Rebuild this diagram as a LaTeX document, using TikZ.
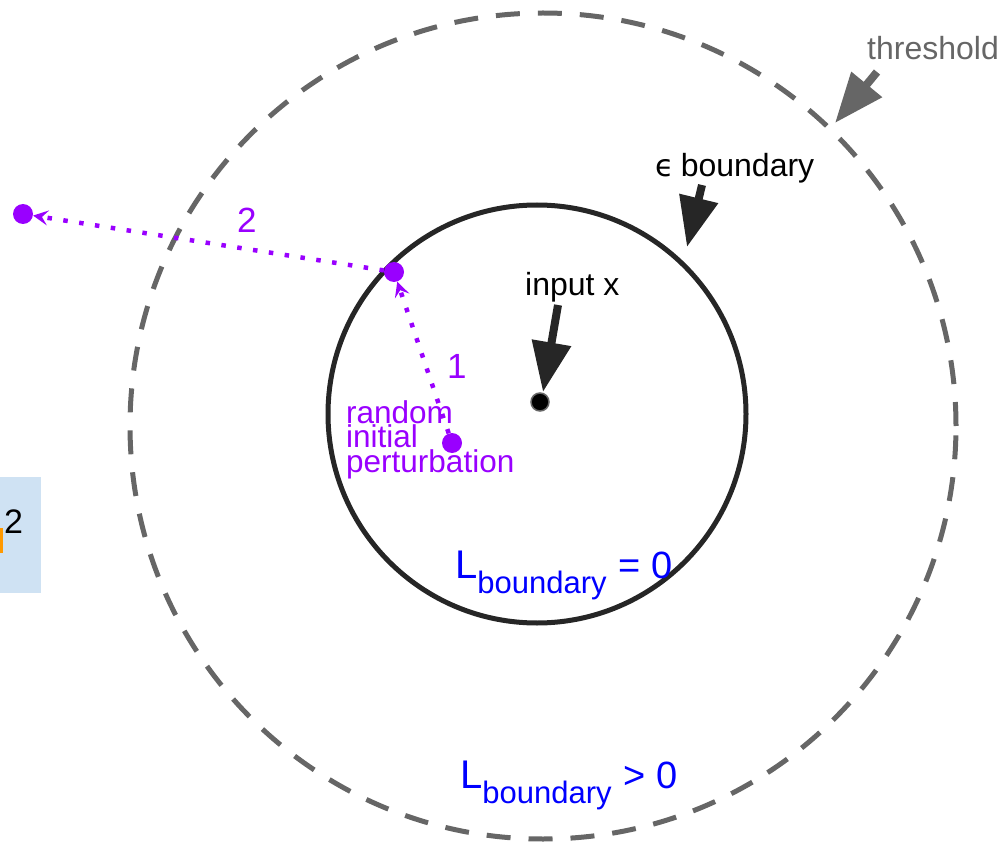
\documentclass[tikz,border=0pt]{standalone}
\usepackage{fontspec}
\setmainfont{Liberation Sans}
\newfontfamily\dejavu[Scale=0.95]{DejaVu Sans}
\usetikzlibrary{arrows.meta}
\definecolor{purp}{HTML}{9900FF}
\definecolor{thr}{HTML}{666666}
\definecolor{ink}{HTML}{262626}
\definecolor{boxblue}{HTML}{CFE2F3}
\definecolor{orng}{HTML}{FF9900}
\tikzset{
  lbl/.style={inner sep=0pt, anchor=base west, font=\fontsize{32}{32}\selectfont},
  bigarrow/.style={line width=8pt, -{Triangle[length=50pt,width=38pt]}},
  pdot/.style={circle, fill=purp, inner sep=0pt, minimum size=20pt},
  parrow/.style={purp, line width=4.5pt, dash pattern=on 4.5pt off 11.5pt, -{Stealth[length=15pt,width=15pt,inset=6pt]}},
  plabel/.style={inner sep=0pt, anchor=base west, text=purp, font=\fontsize{35}{35}\selectfont},
  loss/.style={inner sep=0pt, anchor=base west, text=blue}
}
\newcommand{\bigL}[1]{{\fontsize{40}{40}\selectfont L}\raisebox{-15pt}{\fontsize{31}{31}\selectfont boundary}{\fontsize{38}{38}\selectfont\hspace{12pt}#1}}
\begin{document}
\begin{tikzpicture}[x=1pt,y=-1pt]
\useasboundingbox (0,0) rectangle (1004,842);
% left box
\fill[boxblue] (0,477) rectangle (41,593);
\fill[orng] (0,528) rectangle (3,553);
\node[lbl, font=\fontsize{34}{34}\selectfont] (boxtxt) at (4,533) {2};
% circles
\node[circle, draw=thr, line width=5pt, dash pattern=on 24pt off 18pt, minimum size=826pt, inner sep=0pt] (outer) at (543,426) {};
\node[circle, draw=ink, line width=5pt, minimum size=418pt, inner sep=0pt] (inner) at (537,414) {};
% input
\node[circle, fill=black, draw=black!60, line width=1.5pt, minimum size=18pt, inner sep=0pt] (x) at (540,402) {};
\node[lbl] (inputlbl) at (525,296) {input x};
\coordinate (inTail) at (558,305);
\coordinate (inTip) at (543,392);
\draw[bigarrow, ink] (inTail) -- (inTip);
% epsilon boundary
\node[lbl] (epslbl) at (655,177) {{\dejavu ϵ}\hspace{-2pt} boundary};
\coordinate (epsTail) at (702,185);
\coordinate (epsTip) at (687,247);
\draw[bigarrow, ink] (epsTail) -- (epsTip);
% threshold
\node[lbl, text=thr] (thrlbl) at (867,60) {threshold};
\coordinate (thrTail) at (877,72);
\coordinate (thrTip) at (835,123);
\draw[bigarrow, thr] (thrTail) -- (thrTip);
% perturbation points
\node[pdot] (p0) at (452,443) {};
\node[pdot] (p1) at (394,272) {};
\node[pdot] (p2) at (23,214) {};
\draw[parrow] (p0) -- (p1);
\draw[parrow] (p1) -- (p2);
\node[plabel] (one) at (447,378) {1};
\node[plabel] (two) at (237,233) {2};
\node[inner sep=0pt, anchor=north west, text=purp, align=left, font=\fontsize{31.5}{24.5}\selectfont] (rip) at (346,400) {random\\initial\\perturbation};
% losses
\node[loss] (l0) at (455,578) {\bigL{= 0}};
\node[loss] (l1) at (460,788) {\bigL{> 0}};
\end{tikzpicture}
\end{document}
